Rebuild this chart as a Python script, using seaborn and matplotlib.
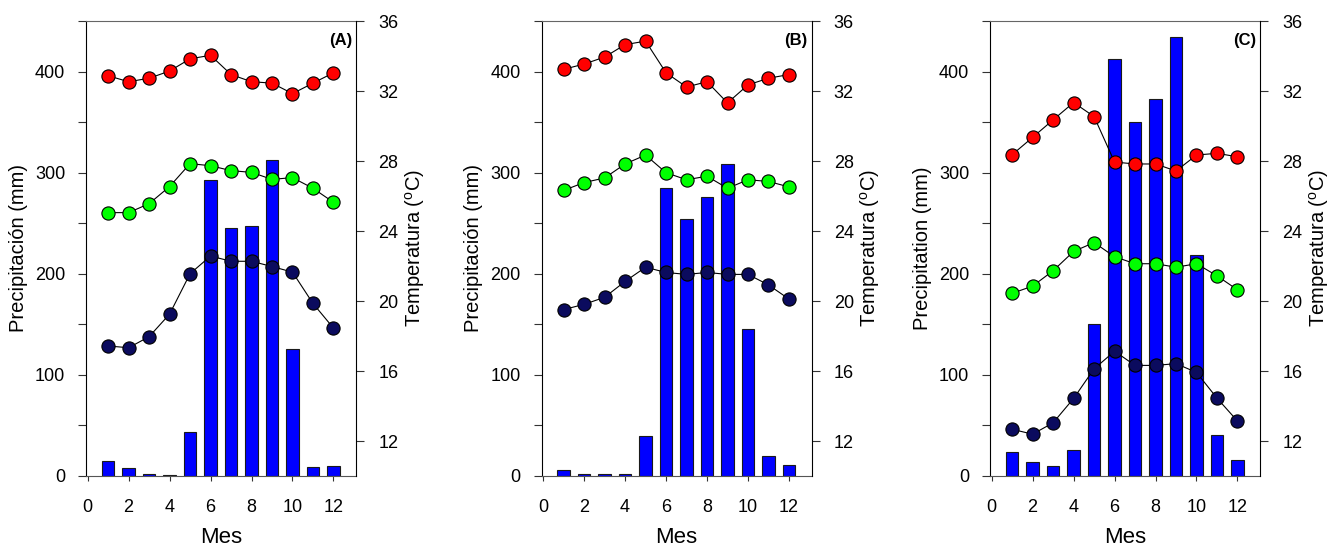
import matplotlib
matplotlib.use('Agg')
import matplotlib.pyplot as plt
from matplotlib.ticker import FuncFormatter
import seaborn as sns
import numpy as np

meses = list(range(1, 13))

# (A)
prec_a = [14.5, 8, 1.7, 0.7, 43.5, 293, 245, 247, 313, 126, 9, 9.4]
tmax_a = [32.87, 32.53, 32.73, 33.14, 33.84, 34.04, 32.94, 32.53, 32.45, 31.85, 32.45, 33.04]
tmed_a = [25.05, 25.05, 25.56, 26.54, 27.85, 27.73, 27.45, 27.35, 26.95, 27.05, 26.44, 25.64]
tmin_a = [17.43, 17.33, 17.96, 19.25, 21.56, 22.57, 22.27, 22.27, 21.97, 21.65, 19.86, 18.45]

# (B)
prec_b = [5.6, 2.4, 2.4, 2.4, 39.5, 285, 254.5, 276, 309, 145.5, 19.6, 10.8]
tmax_b = [33.24, 33.54, 33.94, 34.65, 34.85, 33.04, 32.23, 32.53, 31.32, 32.35, 32.73, 32.94]
tmed_b = [26.32, 26.77, 27.03, 27.83, 28.34, 27.33, 26.93, 27.13, 26.44, 26.93, 26.83, 26.52]
tmin_b = [19.51, 19.81, 20.21, 21.12, 21.93, 21.63, 21.52, 21.63, 21.52, 21.52, 20.92, 20.11]

# (C)
prec_c = [23.8, 14, 9.8, 26.2, 150.3, 412.6, 349.7, 372.4, 433.9, 218.9, 40.2, 15.4]
tmax_c = [28.36, 29.35, 30.35, 31.34, 30.54, 27.94, 27.83, 27.83, 27.43, 28.34, 28.44, 28.24]
tmed_c = [20.44, 20.85, 21.73, 22.83, 23.34, 22.53, 22.13, 22.13, 21.93, 22.13, 21.44, 20.64]
tmin_c = [12.67, 12.39, 13.04, 14.43, 16.12, 17.13, 16.32, 16.32, 16.42, 15.92, 14.45, 13.14]

etiquetas = ['(A)', '(B)', '(C)']
ylabels_prec = ['Precipitación (mm)', 'Precipitación (mm)', 'Precipitation (mm)']

sns.set_style('ticks')
plt.rcParams['font.family'] = ['Liberation Sans', 'DejaVu Sans']
plt.rcParams['mathtext.fontset'] = 'custom'
plt.rcParams['mathtext.rm'] = 'Liberation Sans'
for k in ['text.color', 'axes.labelcolor', 'xtick.labelcolor', 'ytick.labelcolor']:
    plt.rcParams[k] = 'black'

fig = plt.figure(figsize=(13.33, 5.5), dpi=100)

paneles = [
    (prec_a, tmax_a, tmed_a, tmin_a),
    (prec_b, tmax_b, tmed_b, tmin_b),
    (prec_c, tmax_c, tmed_c, tmin_c),
]
lefts = [86, 541.5, 990]

for i, (prec, tmax, tmed, tmin) in enumerate(paneles):
    ax = fig.add_axes([lefts[i] / 1333, 74 / 550, 270 / 1333, 455 / 550])
    sns.barplot(x=meses, y=prec, native_scale=True, width=0.62, color='#0000ff',
                saturation=1, edgecolor='#1a1a1a', linewidth=0.8, ax=ax)
    ax.set_xlim(-0.08, 13.1)
    ax.set_ylim(0, 450)
    ax.set_xticks(range(0, 13, 2))
    ax.set_yticks(np.arange(0, 451, 50))
    ax.yaxis.set_major_formatter(FuncFormatter(lambda v, p: f'{int(v)}' if v % 100 == 0 else ''))
    ax.tick_params(axis='y', length=6, width=0.8, pad=9, labelsize=13, color='#333333')
    ax.tick_params(axis='x', length=3.5, width=0.8, pad=13, labelsize=13, color='#333333')
    ax.set_xlabel('Mes', fontsize=16, labelpad=8)
    ax.set_ylabel(ylabels_prec[i], fontsize=14.5, labelpad=5)
    ax.spines['right'].set_visible(False)
    ax.spines['top'].set_color('#666666')
    ax.spines['bottom'].set_color('#555555')
    ax.spines['left'].set_color('black')

    ax2 = ax.twinx()
    for temp, col in [(tmax, '#ff0000'), (tmed, '#00ff00'), (tmin, '#0b0b5e')]:
        sns.lineplot(x=meses, y=temp, ax=ax2, color='black', lw=0.8, marker='o',
                     markersize=9.5, markerfacecolor=col, markeredgecolor='black',
                     markeredgewidth=0.8)
    ax2.set_ylim(10, 36)
    ax2.set_yticks(range(12, 37, 4))
    ax2.tick_params(axis='y', length=6, width=0.8, pad=10, labelsize=13, color='#333333')
    ax2.set_ylabel(r'Temperatura ($\mathregular{^{o}}$C)', fontsize=14.5, labelpad=3)
    for s in ['top', 'bottom', 'left']:
        ax2.spines[s].set_visible(False)
    ax2.spines['right'].set_color('black')
    ax2.text(0.985, 0.958, etiquetas[i], transform=ax2.transAxes, ha='right', va='center',
             fontsize=12, fontweight='bold')

fig.savefig('out.png', dpi=100)
